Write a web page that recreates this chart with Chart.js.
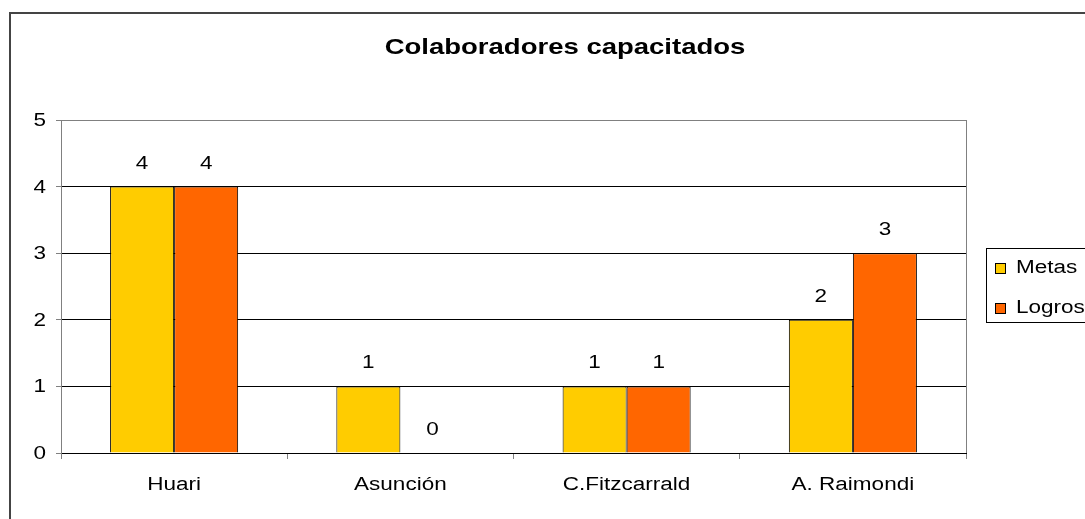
<!DOCTYPE html>
<html>
<head>
<meta charset="utf-8">
<script src="https://cdn.jsdelivr.net/npm/chart.js@4"></script>
<style>
    html, body { margin: 0; padding: 0; background: #fff; overflow: hidden; }
    #frame { position: absolute; left: 9px; top: 12px; width: 1200px; height: 600px; border: 2px solid #444; }
    #wrap { position: absolute; left: 0; top: 0; width: 1085px; height: 519px; }
</style>
</head>
<body>
<div id="frame"></div>
<div id="wrap"><canvas id="trainedChart" width="1085" height="519"></canvas></div>
<script>
// Colaboradores capacitados - metas vs logros por provincia
const categories = ["Huari", "Asunción", "C.Fitzcarrald", "A. Raimondi"];
const metas = [4, 1, 1, 2];
const logros = [4, 0, 1, 3];
const yTicks = [0, 1, 2, 3, 4, 5];
const seriesNames = ["Metas", "Logros"];
const titleText = "Colaboradores capacitados";

const FONT = "'Liberation Sans', Arial, sans-serif";
const STRETCH = 1.25; // the original picture is stretched sideways

function stretchedText(ctx, text, x, y, size, bold, align) {
    ctx.save();
    ctx.font = (bold ? "bold " : "") + size + "px " + FONT;
    ctx.fillStyle = "#000";
    ctx.textBaseline = "alphabetic";
    ctx.textAlign = align;
    ctx.translate(x, y);
    ctx.scale(STRETCH, 1);
    ctx.fillText(text, 0, 0);
    ctx.restore();
}

// gray right border of the plot area
const plotFrame = {
    id: 'plotFrame',
    beforeDatasetsDraw(chart) {
        const { ctx, chartArea } = chart;
        ctx.save();
        ctx.strokeStyle = '#808080';
        ctx.lineWidth = 1;
        ctx.beginPath();
        ctx.moveTo(Math.round(chartArea.right) + 0.5, chartArea.top);
        ctx.lineTo(Math.round(chartArea.right) + 0.5, chartArea.bottom);
        ctx.stroke();
        ctx.restore();
    }
};

// title, tick labels, value labels and legend, all drawn stretched
const textLayer = {
    id: 'textLayer',
    afterDraw(chart) {
        const ctx = chart.ctx;
        const xs = chart.scales.x, ys = chart.scales.y;

        stretchedText(ctx, titleText, 565, 54, 22, true, 'center');

        ys.ticks.forEach((t, i) => {
            stretchedText(ctx, String(t.value), 46, ys.getPixelForTick(i) + 6, 18, false, 'right');
        });
        categories.forEach((c, i) => {
            stretchedText(ctx, c, xs.getPixelForTick(i), 490, 18, false, 'center');
        });

        chart.data.datasets.forEach((ds, di) => {
            chart.getDatasetMeta(di).data.forEach((bar, i) => {
                stretchedText(ctx, String(ds.data[i]), bar.x, bar.y - 18, 18, false, 'center');
            });
        });

        // legend
        ctx.save();
        ctx.strokeStyle = '#000';
        ctx.lineWidth = 1;
        ctx.strokeRect(986.5, 248.5, 200, 74);
        chart.data.datasets.forEach((ds, di) => {
            const top = 263 + di * 39.5;
            ctx.fillStyle = ds.backgroundColor;
            ctx.fillRect(995, Math.round(top), 10, 10);
            ctx.strokeRect(995.5, Math.round(top) + 0.5, 10, 10);
            stretchedText(ctx, ds.label, 1016, Math.round(top) + 10, 18, false, 'left');
        });
        ctx.restore();
    }
};

new Chart(document.getElementById("trainedChart").getContext("2d"), {
    type: 'bar',
    data: {
        labels: categories,
        datasets: [
            {
                label: seriesNames[0],
                data: metas,
                backgroundColor: '#FFCC00',
                borderColor: '#000',
                borderWidth: 1,
                categoryPercentage: 0.566,
                barPercentage: 1
            },
            {
                label: seriesNames[1],
                data: logros,
                backgroundColor: '#FF6600',
                borderColor: '#000',
                borderWidth: 1,
                categoryPercentage: 0.566,
                barPercentage: 1
            }
        ]
    },
    options: {
        responsive: false,
        animation: false,
        layout: { padding: { top: 120, right: 119, left: 0, bottom: 0 } },
        plugins: {
            legend: { display: false },
            title: { display: false },
            tooltip: { enabled: false }
        },
        scales: {
            x: {
                grid: {
                    display: true,
                    drawOnChartArea: false,
                    drawTicks: true,
                    tickLength: 6,
                    tickColor: '#808080',
                    offset: true
                },
                border: { color: '#000', width: 1 },
                ticks: { display: false },
                afterFit(scale) { scale.height = 66; }
            },
            y: {
                min: 0,
                max: 5,
                grid: {
                    color: ctx => (ctx.tick && ctx.tick.value === yTicks[yTicks.length - 1]) ? '#808080' : '#000',
                    tickColor: '#808080',
                    tickLength: 5,
                    lineWidth: 1
                },
                border: { color: '#808080', width: 1 },
                ticks: { display: false, stepSize: 1 },
                afterFit(scale) { scale.width = 61; }
            }
        }
    },
    plugins: [plotFrame, textLayer]
});
</script>
</body>
</html>
